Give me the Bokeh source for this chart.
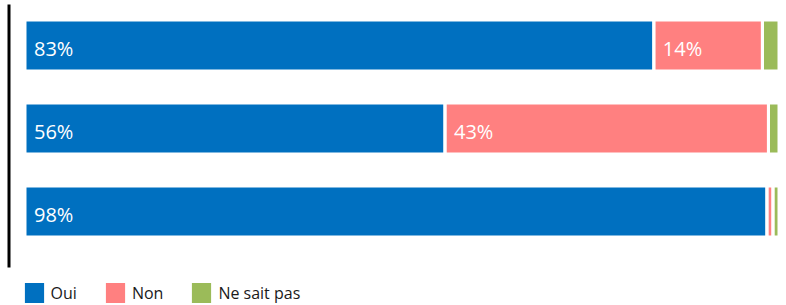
from bokeh.plotting import figure
from bokeh.models import Range1d, ColumnDataSource, Legend, LegendItem
from bokeh.core.properties import value
from bokeh.embed import file_html
from bokeh.resources import INLINE

# ---- data ----
rows = [0, 1, 2]
series = ["Oui", "Non", "Ne sait pas"]
oui = [83.4, 55.7, 98.4]
non = [14.4, 42.9, 0.8]
nsp = [2.2, 1.4, 0.8]
colors = ["#0070C0", "#FF8080", "#9BBB59"]

# ---- layout constants ----
W, H = 786, 305
k = 7.54          # px per percent
x0_px = 24.5      # px from frame left to 0%
row_px = 83       # px between rows
top_px = 45       # px from top to first row centre

p = figure(width=W, height=H,
           x_range=Range1d(-x0_px / k, (W - x0_px) / k),
           y_range=Range1d((H - top_px) / row_px, -top_px / row_px),
           output_backend="svg", toolbar_location=None,
           min_border=0, outline_line_color=None)
p.axis.visible = False
p.grid.visible = False
p.background_fill_color = "white"
p.border_fill_color = "white"

non_l = oui
non_r = [a + b for a, b in zip(oui, non)]
nsp_r = [a + b for a, b in zip(non_r, nsp)]

src = ColumnDataSource(dict(y=rows, oui_l=[0] * 3, oui_r=oui,
                            non_l=non_l, non_r=non_r,
                            nsp_l=non_r, nsp_r=nsp_r))
bh = 51 / row_px
fill_renderers = []
for (l, r), c in zip([("oui_l", "oui_r"), ("non_l", "non_r"), ("nsp_l", "nsp_r")], colors):
    fr = p.hbar(y="y", left=l, right=r, height=bh, source=src,
                fill_color=c, line_color=None)
    fill_renderers.append(fr)
for l, r in [("oui_l", "oui_r"), ("non_l", "non_r"), ("nsp_l", "nsp_r")]:
    p.hbar(y="y", left=l, right=r, height=bh, source=src,
           fill_color=None, line_color="white", line_width=3)

# labels
lx, ly, lt = [], [], []
for vals, lefts in [(oui, [0] * 3), (non, non_l), (nsp, non_r)]:
    for i, (v, left) in enumerate(zip(vals, lefts)):
        if v >= 5:
            lx.append(left)
            ly.append(rows[i])
            lt.append(f"{round(v)}%")
p.text(x=lx, y=ly, text=lt, x_offset=9, y_offset=3,
       text_baseline="middle", text_align="left",
       text_font=value("Open Sans"), text_font_size="20px", text_color="white")

# vertical axis line
xs = -x0_px / k + 8.5 / k
p.segment(x0=[xs], y0=[(4 - top_px) / row_px], x1=[xs], y1=[(267 - top_px) / row_px],
          line_color="black", line_width=3)

# legend
items = [LegendItem(label=name, renderers=[r]) for name, r in zip(series, fill_renderers)]
legend = Legend(items=items, orientation="horizontal", location=(21.6, 0),
                glyph_width=24, glyph_height=25, label_standoff=5, spacing=26,
                padding=0, margin=0, border_line_color=None, background_fill_alpha=0,
                label_text_font="Open Sans", label_text_font_size="16px",
                label_text_color="#1a1a1a", label_height=25)
p.add_layout(legend)

open("out.html", "w").write(file_html(p, INLINE))
